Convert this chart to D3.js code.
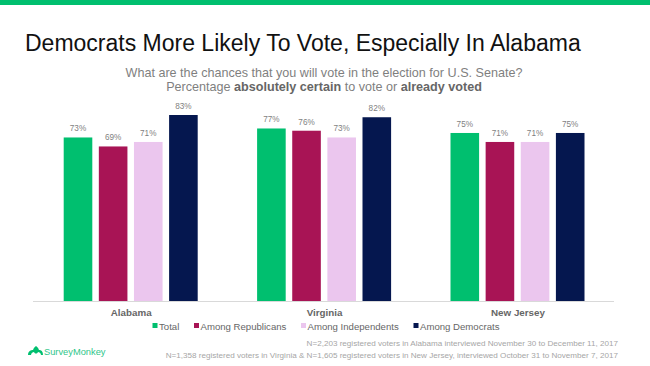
<!DOCTYPE html>
<html>
<head>
    <meta charset="utf-8" />
    <title>Democrats More Likely To Vote</title>
    <style>
        html, body { margin: 0; padding: 0; background: #fff; }
        svg { display: block; }
        text { font-family: "Liberation Sans", Arial, sans-serif; }
    </style>
</head>
<body>
    <script src="https://cdnjs.cloudflare.com/ajax/libs/d3/7.8.5/d3.min.js"></script>
    <script>
        const states = ['Alabama', 'Virginia', 'New Jersey']
        const seriesNames = ['Total', 'Among Republicans', 'Among Independents', 'Among Democrats']
        const seriesColors = ['#00bf6f', '#a81455', '#ebc6ee', '#05174f']

        const total = [73, 77, 75]
        const republicans = [69, 76, 71]
        const independents = [71, 73, 71]
        const democrats = [83, 82, 75]
        const seriesValues = [total, republicans, independents, democrats]

        const legendX = [152.5, 194, 301, 413.5]

        const footnotes = [
            'N=2,203 registered voters in Alabama interviewed November 30 to December 11, 2017',
            'N=1,358 registered voters in Virginia & N=1,605 registered voters in New Jersey, interviewed October 31 to November 7, 2017'
        ]

        const width = 650, height = 366, baseline = 301.5

        const svg = d3.select('body').append('svg')
            .attr('width', width)
            .attr('height', height)

        svg.append('rect')
            .attr('width', width)
            .attr('height', 5)
            .attr('fill', '#00bf6f')

        svg.append('text')
            .attr('x', 25)
            .attr('y', 50.5)
            .attr('font-size', 23)
            .attr('fill', '#111')
            .text('Democrats More Likely To Vote, Especially In Alabama')

        svg.append('text')
            .attr('x', 324)
            .attr('y', 77)
            .attr('text-anchor', 'middle')
            .attr('font-size', 12.6)
            .attr('fill', '#7f7f7f')
            .text('What are the chances that you will vote in the election for U.S. Senate?')

        let sub = svg.append('text')
            .attr('x', 324)
            .attr('y', 91)
            .attr('text-anchor', 'middle')
            .attr('font-size', 12.6)
            .attr('fill', '#7f7f7f')
        sub.append('tspan').text('Percentage ')
        sub.append('tspan').attr('font-weight', 'bold').attr('fill', '#666').text('absolutely certain')
        sub.append('tspan').text(' to vote or ')
        sub.append('tspan').attr('font-weight', 'bold').attr('fill', '#666').text('already voted')

        let x0 = d3.scalePoint().domain(states).range([130.7, 517.5])
        let x1 = d3.scaleBand().domain(seriesNames).range([-67, 67]).paddingInner(0.186)
        let y = d3.scaleLinear().domain([0, 100]).range([baseline, baseline - 224.7])

        let groups = svg.selectAll('g.state')
            .data(states)
            .enter()
                .append('g')
                .classed('state', true)
                .attr('transform', d => `translate(${x0(d)}, 0)`)

        seriesNames.forEach(function (name, i) {
            groups.append('rect')
                .attr('x', x1(name))
                .attr('y', (d, j) => y(seriesValues[i][j]))
                .attr('width', x1.bandwidth())
                .attr('height', (d, j) => baseline - y(seriesValues[i][j]))
                .attr('fill', seriesColors[i])

            groups.append('text')
                .attr('x', x1(name) + x1.bandwidth() / 2)
                .attr('y', (d, j) => y(seriesValues[i][j]) - 6)
                .attr('text-anchor', 'middle')
                .attr('font-size', 8.2)
                .attr('fill', '#7f7f7f')
                .text((d, j) => seriesValues[i][j] + '%')
        })

        let xAxis = d3.axisBottom(x0).tickSize(0).tickPadding(8)
        let axisG = svg.append('g')
            .attr('transform', `translate(0, ${baseline})`)
            .call(xAxis)
        axisG.select('.domain').remove()
        axisG.append('line')
            .attr('x1', 33)
            .attr('x2', 614)
            .attr('stroke', '#d9d9d9')
            .attr('stroke-width', 1)
        axisG.selectAll('.tick text')
            .attr('font-family', '"Liberation Sans", Arial, sans-serif')
            .attr('font-size', 9.8)
            .attr('font-weight', 'bold')
            .attr('fill', '#666')

        let legend = svg.selectAll('g.legend')
            .data(seriesNames)
            .enter()
                .append('g')
                .classed('legend', true)
                .attr('transform', (d, i) => `translate(${legendX[i]}, 0)`)
        legend.append('rect')
            .attr('y', 323)
            .attr('width', 5)
            .attr('height', 5)
            .attr('fill', (d, i) => seriesColors[i])
        legend.append('text')
            .attr('x', 6.5)
            .attr('y', 330)
            .attr('font-size', 9.6)
            .attr('fill', '#666')
            .text(d => d)

        svg.selectAll('text.foot')
            .data(footnotes)
            .enter()
                .append('text')
                .classed('foot', true)
                .attr('x', 618)
                .attr('y', (d, i) => 346 + i * 12)
                .attr('text-anchor', 'end')
                .attr('font-size', 8.1)
                .attr('fill', '#a6a6a6')
                .text(d => d)

        // logo, rough shape
        let logo = svg.append('g').attr('fill', '#00bf6f')
        logo.append('path')
            .attr('d', 'M28 355 C28 351 31 350 33 350 C34 347 36 346 36 346 C36 346 38 347 39 350 C41 350 43 351 43 355 L41 355 C41 353 39 352 38 352 C37 354 35 354 34 352 C33 352 31 353 31 355 Z')
        logo.append('text')
            .attr('x', 44)
            .attr('y', 355)
            .attr('font-size', 9.3)
            .attr('fill', '#2fc68a')
            .text('SurveyMonkey')
    </script>
</body>
</html>
